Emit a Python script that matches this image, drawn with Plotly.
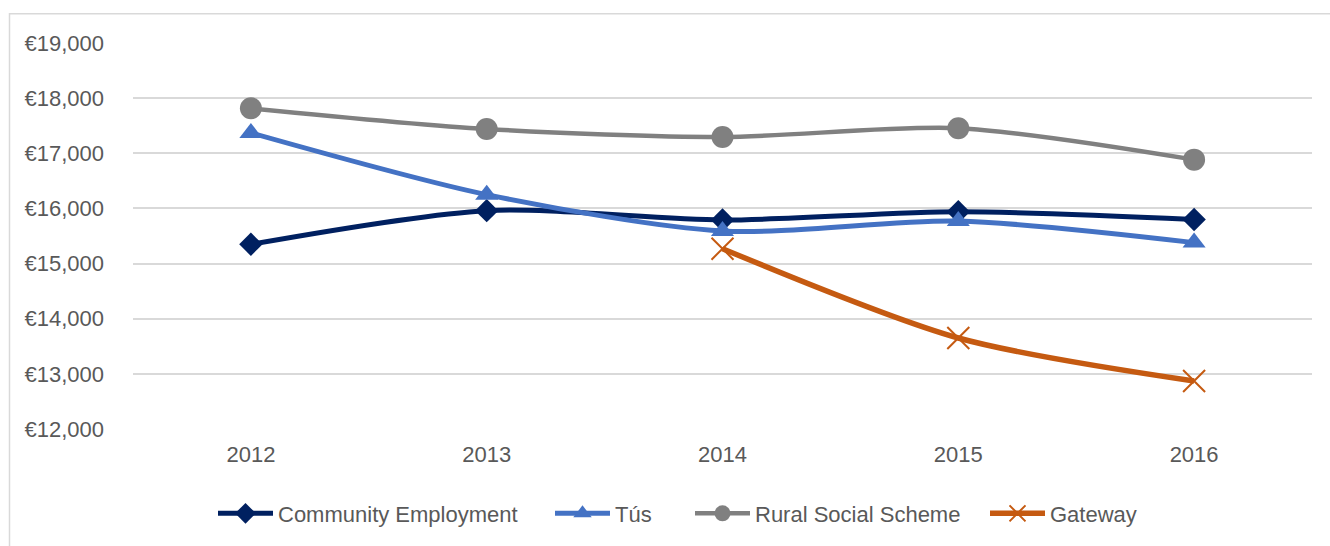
import plotly.graph_objects as go

# Cost per participant by scheme, 2012-2016
years = ["2012", "2013", "2014", "2015", "2016"]
community_employment = [15350, 15960, 15790, 15940, 15800]
tus = [17370, 16250, 15590, 15770, 15380]
rural_social_scheme = [17815, 17440, 17295, 17455, 16885]
gateway_years = ["2014", "2015", "2016"]
gateway = [15270, 13650, 12870]

y_ticks = [12000, 13000, 14000, 15000, 16000, 17000, 18000, 19000]
y_tick_labels = ["€12,000", "€13,000", "€14,000", "€15,000",
                 "€16,000", "€17,000", "€18,000", "€19,000"]

W, H = 1330, 546
ML, MR, MT, MB = 133, 18, 43, 115
plot_w = W - ML - MR
plot_h = H - MT - MB

FONT = "Liberation Sans"
TEXT = "#595959"

# each series gets its own legend box so the entries can be spaced out
series = [
    ("Community Employment", years, community_employment, "#002060",
     dict(symbol="diamond", size=18, color="#002060"), 5, "legend", 218),
    ("Tús", years, tus, "#4472C4",
     dict(symbol="triangle-up", size=20, color="#4472C4"), 5, "legend2", 555),
    ("Rural Social Scheme", years, rural_social_scheme, "#808080",
     dict(symbol="circle", size=22, color="#808080"), 4.5, "legend3", 695),
    ("Gateway", gateway_years, gateway, "#C55A11",
     dict(symbol="x-thin", size=22, color="#C55A11",
          line=dict(color="#C55A11", width=2)), 5.5, "legend4", 990),
]

fig = go.Figure()
legends = {}
legend_y = -(516 - MT - plot_h) / plot_h
for name, xs, ys, color, marker, lw, leg, lx in series:
    fig.add_trace(go.Scatter(
        x=xs, y=ys, name=name, mode="lines+markers", legend=leg,
        line=dict(color=color, width=lw, shape="spline", smoothing=0.8),
        marker=marker,
    ))
    legends[leg] = dict(
        orientation="h", x=(lx - 5 - ML) / plot_w, xanchor="left",
        y=legend_y, yanchor="middle", bgcolor="rgba(0,0,0,0)",
        font=dict(family=FONT, size=22, color=TEXT), itemwidth=55,
    )

# outer chart frame (extends past the right and bottom edges)
fig.add_shape(
    type="rect", xref="paper", yref="paper", layer="below",
    x0=(9.5 - ML) / plot_w, x1=(W + 5 - ML) / plot_w,
    y0=-(H + 5 - MT - plot_h) / plot_h, y1=1 + (MT - 13.5) / plot_h,
    line=dict(color="#D9D9D9", width=1.5), fillcolor="rgba(0,0,0,0)",
)

fig.update_layout(
    width=W, height=H,
    margin=dict(l=ML, r=MR, t=MT, b=MB),
    paper_bgcolor="white", plot_bgcolor="white",
    font=dict(family=FONT, size=22, color=TEXT),
    showlegend=True,
    xaxis=dict(
        type="category", categoryorder="array", categoryarray=years,
        range=[-0.5, 4.5], showgrid=False, zeroline=False, showline=False,
        ticks="", tickfont=dict(family=FONT, size=22, color=TEXT),
        ticklabelstandoff=10,
    ),
    yaxis=dict(
        range=[12000, 19000], tickvals=y_ticks, ticktext=y_tick_labels,
        showgrid=True, gridcolor="#D9D9D9", gridwidth=1.5,
        zeroline=False, showline=False, ticks="",
        tickfont=dict(family=FONT, size=22, color=TEXT),
        ticklabelstandoff=28,
    ),
    **legends,
)

fig.write_html("out.html")
